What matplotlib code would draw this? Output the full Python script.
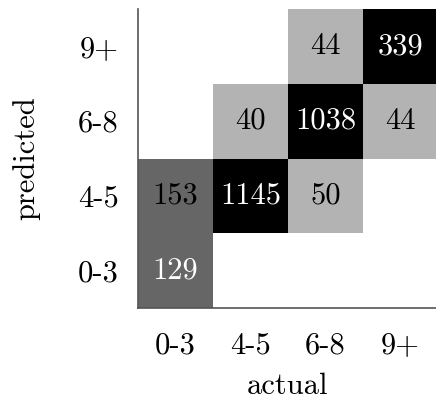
import numpy as np
import matplotlib
matplotlib.use("Agg")
import matplotlib.pyplot as plt
from matplotlib.colors import ListedColormap

plt.rcParams["font.family"] = ["cmr10", "DejaVu Serif"]
plt.rcParams["axes.formatter.use_mathtext"] = True

actual_labels = ["0-3", "4-5", "6-8", "9+"]
predicted_labels = ["0-3", "4-5", "6-8", "9+"]

# counts[row = predicted, col = actual]; 0 means empty cell
counts = np.array([
    [129, 0, 0, 0],
    [153, 1145, 50, 0],
    [0, 40, 1038, 44],
    [0, 0, 44, 339],
])

# shade class per cell: 0 empty, 1 light, 2 medium, 3 dark
shade = np.array([
    [2, 0, 0, 0],
    [2, 3, 1, 0],
    [0, 1, 3, 1],
    [0, 0, 1, 3],
])

# cells whose count is written in white
white_text = np.array([
    [1, 0, 0, 0],
    [0, 1, 0, 0],
    [0, 0, 1, 0],
    [0, 0, 0, 1],
], dtype=bool)

cmap = ListedColormap(["#ffffff", "#b3b3b3", "#666666", "#000000"])

fig = plt.figure(figsize=(4.36, 4.0), dpi=100)
ax = fig.add_axes([138 / 436, 92 / 400, 300 / 436, 299 / 400])

ax.imshow(shade, cmap=cmap, vmin=-0.5, vmax=3.5, origin="lower",
          aspect="auto", interpolation="nearest")

n = len(actual_labels)
for i in range(n):
    for j in range(n):
        if counts[i, j] > 0:
            ax.text(j, i, str(counts[i, j]), ha="center", va="center",
                    fontsize=22, color="white" if white_text[i, j] else "black")

ax.set_xlim(-0.5, n - 0.5)
ax.set_ylim(-0.5, n - 0.5)
ax.set_xticks(range(n))
ax.set_xticklabels(actual_labels, fontsize=22)
ax.set_yticks(range(n))
ax.set_yticklabels(predicted_labels, fontsize=22)
ax.tick_params(axis="y", length=0, pad=14)
ax.tick_params(axis="x", length=0, pad=17)
ax.set_xlabel("actual", fontsize=22, labelpad=10)
ax.set_ylabel("predicted", fontsize=22, labelpad=27)

for side in ("top", "right"):
    ax.spines[side].set_visible(False)
for side in ("left", "bottom"):
    ax.spines[side].set_color("#555555")
    ax.spines[side].set_linewidth(1.2)

fig.savefig("out.png", dpi=100)
